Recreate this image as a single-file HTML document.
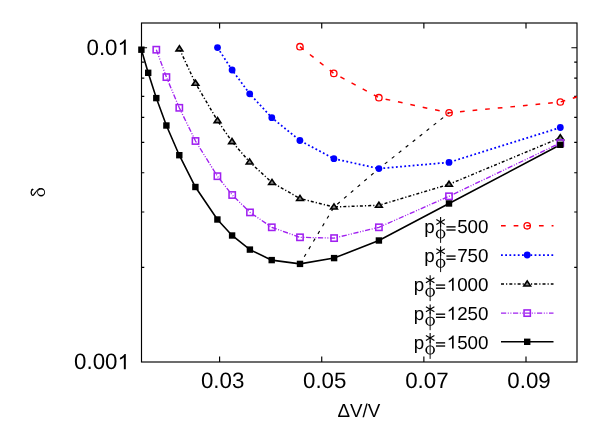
<!DOCTYPE html>
<html><head><meta charset="utf-8"><title>plot</title>
<style>
html,body{margin:0;padding:0;background:#fff;}
body{width:606px;height:424px;overflow:hidden;font-family:"Liberation Sans",sans-serif;}
svg{display:block;will-change:transform;}
text{font-family:"Liberation Sans",sans-serif;fill:#000;text-rendering:geometricPrecision;}
</style></head><body>
<svg width="606" height="424" viewBox="0 0 606 424">
<rect x="0" y="0" width="606" height="424" fill="#ffffff"/>
<defs><clipPath id="pc"><rect x="141.5" y="23.0" width="435.5" height="339.0"/></clipPath></defs>

<path d="M219.60,362.00 v-5.6 M219.60,23.00 v5.6 M321.73,362.00 v-5.6 M321.73,23.00 v5.6 M423.87,362.00 v-5.6 M423.87,23.00 v5.6 M526.00,362.00 v-5.6 M526.00,23.00 v5.6 M141.50,267.39 h2.8 M577.00,267.39 h-2.8 M141.50,212.04 h2.8 M577.00,212.04 h-2.8 M141.50,172.77 h2.8 M577.00,172.77 h-2.8 M141.50,142.31 h2.8 M577.00,142.31 h-2.8 M141.50,117.43 h2.8 M577.00,117.43 h-2.8 M141.50,96.39 h2.8 M577.00,96.39 h-2.8 M141.50,78.16 h2.8 M577.00,78.16 h-2.8 M141.50,62.08 h2.8 M577.00,62.08 h-2.8 M141.50,47.70 h5.6 M577.00,47.70 h-5.6" stroke="#000" stroke-width="1.15" fill="none"/>
<rect x="141.5" y="23.0" width="435.5" height="339.0" fill="none" stroke="#000" stroke-width="1.15"/>
<g clip-path="url(#pc)" fill="none">
<polyline points="300.00,263.90 334.00,207.00 378.90,168.60 449.10,112.85" stroke="#000" stroke-width="1.15" stroke-dasharray="3.3,5.6" stroke-dashoffset="0.6"/>
<polyline points="299.95,46.70 333.80,73.40 378.90,97.70 449.10,112.85 560.30,102.00 620.00,83.70" stroke="#ff0000" stroke-width="1.5" stroke-dasharray="4.7,7.95"/>
<polyline points="217.50,47.60 232.10,70.00 249.70,93.80 271.80,117.70 299.90,140.50 333.90,158.70 378.90,168.60 449.00,162.40 560.30,127.50" stroke="#0000ff" stroke-width="1.75" stroke-dasharray="1.8,2.4"/>
<polyline points="179.40,48.90 195.50,83.30 217.50,120.60 232.00,141.60 249.60,162.00 272.00,182.50 300.00,198.50 334.00,207.00 378.90,205.30 449.00,184.30 560.30,137.80" stroke="#000" stroke-width="1.45" stroke-dasharray="3.0,2.05,1.2,2.05"/>
<polyline points="156.30,49.70 166.40,77.10 179.30,107.80 195.50,141.00 217.40,176.20 232.20,195.00 250.00,212.40 271.80,227.30 300.00,237.30 334.10,238.10 378.90,227.30 449.00,196.30 560.30,143.00" stroke="#a020f0" stroke-width="1.35" stroke-dasharray="5.2,1.6,1.0,1.6,1.0,1.6"/>
<polyline points="141.40,49.70 148.20,72.80 156.30,98.10 166.40,125.50 179.30,155.20 195.40,187.00 217.40,219.50 232.10,235.50 249.90,249.60 271.70,260.10 300.00,263.90 334.10,258.10 378.90,240.50 449.00,203.50 560.30,144.80" stroke="#000" stroke-width="1.6"/>
</g>
<circle cx="299.95" cy="46.70" r="3.2" fill="none" stroke="#ff0000" stroke-width="1.3"/>
<circle cx="333.80" cy="73.40" r="3.2" fill="none" stroke="#ff0000" stroke-width="1.3"/>
<circle cx="378.90" cy="97.70" r="3.2" fill="none" stroke="#ff0000" stroke-width="1.3"/>
<circle cx="449.10" cy="112.85" r="3.2" fill="none" stroke="#ff0000" stroke-width="1.3"/>
<circle cx="560.30" cy="102.00" r="3.2" fill="none" stroke="#ff0000" stroke-width="1.3"/>
<circle cx="217.50" cy="47.60" r="3.4" fill="#0000ff"/>
<circle cx="232.10" cy="70.00" r="3.4" fill="#0000ff"/>
<circle cx="249.70" cy="93.80" r="3.4" fill="#0000ff"/>
<circle cx="271.80" cy="117.70" r="3.4" fill="#0000ff"/>
<circle cx="299.90" cy="140.50" r="3.4" fill="#0000ff"/>
<circle cx="333.90" cy="158.70" r="3.4" fill="#0000ff"/>
<circle cx="378.90" cy="168.60" r="3.4" fill="#0000ff"/>
<circle cx="449.00" cy="162.40" r="3.4" fill="#0000ff"/>
<circle cx="560.30" cy="127.50" r="3.4" fill="#0000ff"/>
<path d="M179.40,45.80 l3.35,5.1 h-6.7 z" fill="#888" stroke="#000" stroke-width="1.6" stroke-linejoin="miter"/>
<path d="M195.50,80.20 l3.35,5.1 h-6.7 z" fill="#888" stroke="#000" stroke-width="1.6" stroke-linejoin="miter"/>
<path d="M217.50,117.50 l3.35,5.1 h-6.7 z" fill="#888" stroke="#000" stroke-width="1.6" stroke-linejoin="miter"/>
<path d="M232.00,138.50 l3.35,5.1 h-6.7 z" fill="#888" stroke="#000" stroke-width="1.6" stroke-linejoin="miter"/>
<path d="M249.60,158.90 l3.35,5.1 h-6.7 z" fill="#888" stroke="#000" stroke-width="1.6" stroke-linejoin="miter"/>
<path d="M272.00,179.40 l3.35,5.1 h-6.7 z" fill="#888" stroke="#000" stroke-width="1.6" stroke-linejoin="miter"/>
<path d="M300.00,195.40 l3.35,5.1 h-6.7 z" fill="#888" stroke="#000" stroke-width="1.6" stroke-linejoin="miter"/>
<path d="M334.00,203.90 l3.35,5.1 h-6.7 z" fill="#888" stroke="#000" stroke-width="1.6" stroke-linejoin="miter"/>
<path d="M378.90,202.20 l3.35,5.1 h-6.7 z" fill="#888" stroke="#000" stroke-width="1.6" stroke-linejoin="miter"/>
<path d="M449.00,181.20 l3.35,5.1 h-6.7 z" fill="#888" stroke="#000" stroke-width="1.6" stroke-linejoin="miter"/>
<path d="M560.30,134.70 l3.35,5.1 h-6.7 z" fill="#888" stroke="#000" stroke-width="1.6" stroke-linejoin="miter"/>
<rect x="153.15" y="46.55" width="6.3" height="6.3" fill="none" stroke="#a020f0" stroke-width="1.55"/>
<rect x="163.25" y="73.95" width="6.3" height="6.3" fill="none" stroke="#a020f0" stroke-width="1.55"/>
<rect x="176.15" y="104.65" width="6.3" height="6.3" fill="none" stroke="#a020f0" stroke-width="1.55"/>
<rect x="192.35" y="137.85" width="6.3" height="6.3" fill="none" stroke="#a020f0" stroke-width="1.55"/>
<rect x="214.25" y="173.05" width="6.3" height="6.3" fill="none" stroke="#a020f0" stroke-width="1.55"/>
<rect x="229.05" y="191.85" width="6.3" height="6.3" fill="none" stroke="#a020f0" stroke-width="1.55"/>
<rect x="246.85" y="209.25" width="6.3" height="6.3" fill="none" stroke="#a020f0" stroke-width="1.55"/>
<rect x="268.65" y="224.15" width="6.3" height="6.3" fill="none" stroke="#a020f0" stroke-width="1.55"/>
<rect x="296.85" y="234.15" width="6.3" height="6.3" fill="none" stroke="#a020f0" stroke-width="1.55"/>
<rect x="330.95" y="234.95" width="6.3" height="6.3" fill="none" stroke="#a020f0" stroke-width="1.55"/>
<rect x="375.75" y="224.15" width="6.3" height="6.3" fill="none" stroke="#a020f0" stroke-width="1.55"/>
<rect x="445.85" y="193.15" width="6.3" height="6.3" fill="none" stroke="#a020f0" stroke-width="1.55"/>
<rect x="557.15" y="139.85" width="6.3" height="6.3" fill="none" stroke="#a020f0" stroke-width="1.55"/>
<rect x="138.20" y="46.50" width="6.4" height="6.4" fill="#000"/>
<rect x="145.00" y="69.60" width="6.4" height="6.4" fill="#000"/>
<rect x="153.10" y="94.90" width="6.4" height="6.4" fill="#000"/>
<rect x="163.20" y="122.30" width="6.4" height="6.4" fill="#000"/>
<rect x="176.10" y="152.00" width="6.4" height="6.4" fill="#000"/>
<rect x="192.20" y="183.80" width="6.4" height="6.4" fill="#000"/>
<rect x="214.20" y="216.30" width="6.4" height="6.4" fill="#000"/>
<rect x="228.90" y="232.30" width="6.4" height="6.4" fill="#000"/>
<rect x="246.70" y="246.40" width="6.4" height="6.4" fill="#000"/>
<rect x="268.50" y="256.90" width="6.4" height="6.4" fill="#000"/>
<rect x="296.80" y="260.70" width="6.4" height="6.4" fill="#000"/>
<rect x="330.90" y="254.90" width="6.4" height="6.4" fill="#000"/>
<rect x="375.70" y="237.30" width="6.4" height="6.4" fill="#000"/>
<rect x="445.80" y="200.30" width="6.4" height="6.4" fill="#000"/>
<rect x="557.10" y="141.60" width="6.4" height="6.4" fill="#000"/>
<text x="222.60" y="388.4" font-size="22.3" text-anchor="middle">0.03</text>
<text x="324.73" y="388.4" font-size="22.3" text-anchor="middle">0.05</text>
<text x="426.87" y="388.4" font-size="22.3" text-anchor="middle">0.07</text>
<text x="529.00" y="388.4" font-size="22.3" text-anchor="middle">0.09</text>
<text x="86.50" y="54.80" font-size="22.3">0.0</text><path fill="#000" d="M125.80,54.80 L123.84,54.80 L123.84,42.85 Q123.14,43.49 121.99,44.14 Q120.84,44.79 119.92,45.11 L119.92,43.30 Q121.57,42.56 122.80,41.50 Q124.03,40.45 124.54,39.46 L125.80,39.46 Z"/>
<text x="74.09" y="369.30" font-size="22.3">0.00</text><path fill="#000" d="M125.80,369.30 L123.84,369.30 L123.84,357.35 Q123.14,357.99 121.99,358.64 Q120.84,359.29 119.92,359.61 L119.92,357.80 Q121.57,357.06 122.80,356.00 Q124.03,354.95 124.54,353.96 L125.80,353.96 Z"/>
<text x="358.8" y="416.9" font-size="18.8" text-anchor="middle">ΔV/V</text>
<g fill="none" stroke="#000" stroke-linecap="round"><path fill="#000" stroke="none" fill-rule="evenodd" d="M37.2,192.2 a3.95,4.3 0 1,0 7.9,0 a3.95,4.3 0 1,0 -7.9,0 z M38.0,192.3 a3.1,2.7 0 1,0 6.2,0 a3.1,2.7 0 1,0 -6.2,0 z"/><path d="M39.8,188.5 C37.6,188.9 35.6,192.4 34.1,194.4 C33.2,195.7 32.1,195.7 31.5,194.1 C30.9,192.4 31.3,190.4 32.4,189.3" stroke-width="1.2"/><circle cx="32.3" cy="189.6" r="0.55" stroke-width="0.9"/></g>
<line x1="501" y1="225.8" x2="553.5" y2="225.8" stroke="#ff0000" stroke-width="1.5" stroke-dasharray="4.7,7.95"/>
<circle cx="527.20" cy="225.80" r="3.2" fill="none" stroke="#ff0000" stroke-width="1.3"/>
<text x="457.13" y="232.50" font-size="18.8">500</text>
<rect x="446.40" y="226.20" width="9.2" height="1.35" fill="#000"/><rect x="446.40" y="229.35" width="9.2" height="1.35" fill="#000"/>
<path d="M440.60,217.10 L440.60,226.90 M436.36,219.55 L444.84,224.45 M444.84,219.55 L436.36,224.45" stroke="#000" stroke-width="1.1" fill="none"/>
<path fill-rule="evenodd" fill="#000" d="M435.80,234.00 a4.8,4.5 0 1,0 9.6,0 a4.8,4.5 0 1,0 -9.6,0 z M437.45,234.00 a3.15,3.7 0 1,0 6.3,0 a3.15,3.7 0 1,0 -6.3,0 z"/>
<line x1="440.60" y1="224.30" x2="440.60" y2="242.90" stroke="#000" stroke-width="0.95"/>
<text x="434.75" y="232.50" font-size="18.8" text-anchor="end">p</text>
<line x1="501" y1="255" x2="553.5" y2="255" stroke="#0000ff" stroke-width="1.75" stroke-dasharray="1.8,2.4"/>
<circle cx="527.20" cy="255.00" r="3.4" fill="#0000ff"/>
<text x="457.13" y="261.70" font-size="18.8">750</text>
<rect x="446.40" y="255.40" width="9.2" height="1.35" fill="#000"/><rect x="446.40" y="258.55" width="9.2" height="1.35" fill="#000"/>
<path d="M440.60,246.30 L440.60,256.10 M436.36,248.75 L444.84,253.65 M444.84,248.75 L436.36,253.65" stroke="#000" stroke-width="1.1" fill="none"/>
<path fill-rule="evenodd" fill="#000" d="M435.80,263.20 a4.8,4.5 0 1,0 9.6,0 a4.8,4.5 0 1,0 -9.6,0 z M437.45,263.20 a3.15,3.7 0 1,0 6.3,0 a3.15,3.7 0 1,0 -6.3,0 z"/>
<line x1="440.60" y1="253.50" x2="440.60" y2="272.10" stroke="#000" stroke-width="0.95"/>
<text x="434.75" y="261.70" font-size="18.8" text-anchor="end">p</text>
<line x1="501" y1="284" x2="553.5" y2="284" stroke="#000" stroke-width="1.45" stroke-dasharray="3.0,2.05,1.2,2.05"/>
<path d="M527.20,280.90 l3.35,5.1 h-6.7 z" fill="#888" stroke="#000" stroke-width="1.6" stroke-linejoin="miter"/>
<path fill="#000" d="M453.68,290.70 L452.03,290.70 L452.03,280.62 Q451.43,281.17 450.46,281.71 Q449.49,282.26 448.72,282.53 L448.72,281.00 Q450.11,280.38 451.14,279.49 Q452.18,278.60 452.61,277.77 L453.68,277.77 Z"/><text x="457.13" y="290.70" font-size="18.8">000</text>
<rect x="435.94" y="284.40" width="9.2" height="1.35" fill="#000"/><rect x="435.94" y="287.55" width="9.2" height="1.35" fill="#000"/>
<path d="M430.14,275.30 L430.14,285.10 M425.90,277.75 L434.39,282.65 M434.39,277.75 L425.90,282.65" stroke="#000" stroke-width="1.1" fill="none"/>
<path fill-rule="evenodd" fill="#000" d="M425.34,292.20 a4.8,4.5 0 1,0 9.6,0 a4.8,4.5 0 1,0 -9.6,0 z M426.99,292.20 a3.15,3.7 0 1,0 6.3,0 a3.15,3.7 0 1,0 -6.3,0 z"/>
<line x1="430.14" y1="282.50" x2="430.14" y2="301.10" stroke="#000" stroke-width="0.95"/>
<text x="424.29" y="290.70" font-size="18.8" text-anchor="end">p</text>
<line x1="501" y1="313.1" x2="553.5" y2="313.1" stroke="#a020f0" stroke-width="1.35" stroke-dasharray="5.2,1.6,1.0,1.6,1.0,1.6"/>
<rect x="524.05" y="309.95" width="6.3" height="6.3" fill="none" stroke="#a020f0" stroke-width="1.55"/>
<path fill="#000" d="M453.68,319.80 L452.03,319.80 L452.03,309.72 Q451.43,310.27 450.46,310.81 Q449.49,311.36 448.72,311.63 L448.72,310.10 Q450.11,309.48 451.14,308.59 Q452.18,307.70 452.61,306.87 L453.68,306.87 Z"/><text x="457.13" y="319.80" font-size="18.8">250</text>
<rect x="435.94" y="313.50" width="9.2" height="1.35" fill="#000"/><rect x="435.94" y="316.65" width="9.2" height="1.35" fill="#000"/>
<path d="M430.14,304.40 L430.14,314.20 M425.90,306.85 L434.39,311.75 M434.39,306.85 L425.90,311.75" stroke="#000" stroke-width="1.1" fill="none"/>
<path fill-rule="evenodd" fill="#000" d="M425.34,321.30 a4.8,4.5 0 1,0 9.6,0 a4.8,4.5 0 1,0 -9.6,0 z M426.99,321.30 a3.15,3.7 0 1,0 6.3,0 a3.15,3.7 0 1,0 -6.3,0 z"/>
<line x1="430.14" y1="311.60" x2="430.14" y2="330.20" stroke="#000" stroke-width="0.95"/>
<text x="424.29" y="319.80" font-size="18.8" text-anchor="end">p</text>
<line x1="501" y1="341.8" x2="553.5" y2="341.8" stroke="#000" stroke-width="1.6"/>
<rect x="524.00" y="338.60" width="6.4" height="6.4" fill="#000"/>
<path fill="#000" d="M453.68,348.50 L452.03,348.50 L452.03,338.42 Q451.43,338.97 450.46,339.51 Q449.49,340.06 448.72,340.33 L448.72,338.80 Q450.11,338.18 451.14,337.29 Q452.18,336.40 452.61,335.57 L453.68,335.57 Z"/><text x="457.13" y="348.50" font-size="18.8">500</text>
<rect x="435.94" y="342.20" width="9.2" height="1.35" fill="#000"/><rect x="435.94" y="345.35" width="9.2" height="1.35" fill="#000"/>
<path d="M430.14,333.10 L430.14,342.90 M425.90,335.55 L434.39,340.45 M434.39,335.55 L425.90,340.45" stroke="#000" stroke-width="1.1" fill="none"/>
<path fill-rule="evenodd" fill="#000" d="M425.34,350.00 a4.8,4.5 0 1,0 9.6,0 a4.8,4.5 0 1,0 -9.6,0 z M426.99,350.00 a3.15,3.7 0 1,0 6.3,0 a3.15,3.7 0 1,0 -6.3,0 z"/>
<line x1="430.14" y1="340.30" x2="430.14" y2="358.90" stroke="#000" stroke-width="0.95"/>
<text x="424.29" y="348.50" font-size="18.8" text-anchor="end">p</text>
</svg></body></html>
